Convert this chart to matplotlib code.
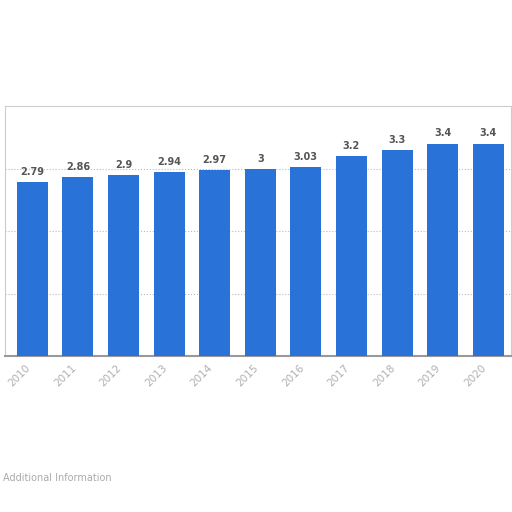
import matplotlib.pyplot as plt

years = ['2010', '2011', '2012', '2013', '2014', '2015',
         '2016', '2017', '2018', '2019', '2020']
values = [2.79, 2.86, 2.9, 2.94, 2.97, 3, 3.03, 3.2, 3.3, 3.4, 3.4]
labels = ['2.79', '2.86', '2.9', '2.94', '2.97', '3', '3.03', '3.2', '3.3', '3.4', '3.4']

bar_color = '#2872d8'

fig = plt.figure(figsize=(5.12, 5.12), dpi=100)
ax = fig.add_axes([5 / 512, 1 - 356 / 512, 506 / 512, 250 / 512])

x = range(len(values))
ax.bar(x, values, width=0.68, color=bar_color, zorder=3)
for i, (v, lab) in enumerate(zip(values, labels)):
    ax.text(i, v + 0.08, lab, ha='center', va='bottom', fontsize=7,
            fontweight='bold', color='#555555')

ax.set_xlim(-0.6, 10.5)
ax.set_ylim(0, 4)
ax.set_yticks([1, 2, 3])
ax.yaxis.grid(True, linestyle=':', color='#bbbbbb', linewidth=0.8, zorder=0)
ax.tick_params(axis='y', left=False, labelleft=False)
ax.set_xticks(list(x))
ax.set_xticklabels(years, rotation=45, ha='right', fontsize=7.5, color='#b0b0b0')
ax.tick_params(axis='x', length=0, pad=5)

for side in ['top', 'left', 'right']:
    ax.spines[side].set_color('#cccccc')
ax.spines['bottom'].set_color('#999999')
ax.spines['bottom'].set_linewidth(1.5)

fig.text(3 / 512, 1 - 478 / 512, 'Additional Information', fontsize=7,
         color='#aaaaaa', va='center')

fig.savefig('out.png', dpi=100)
